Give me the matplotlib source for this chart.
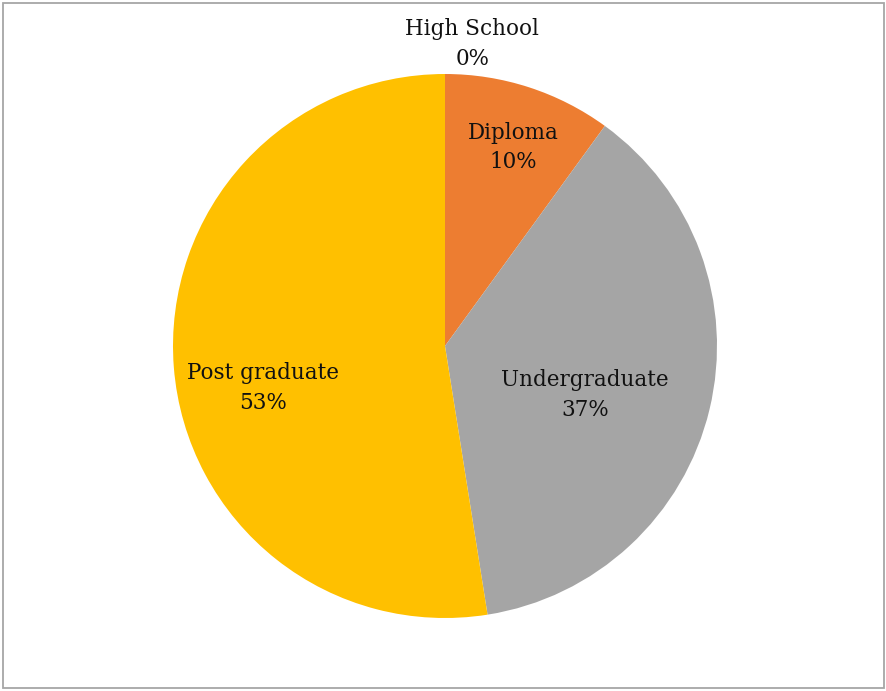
import matplotlib
matplotlib.use("Agg")
import matplotlib.pyplot as plt
from matplotlib.patches import Rectangle

# data
categories = ["High School", "Diploma", "Undergraduate", "Post graduate"]
shares = [0.0, 10.0, 37.5, 52.5]
pct_labels = ["0%", "10%", "37%", "53%"]
colors = ["#4472C4", "#ED7D31", "#A5A5A5", "#FFC000"]
# label anchor positions (pie radius = 1)
label_pos = [(0.10, 1.11), (0.25, 0.73), (0.515, -0.18), (-0.67, -0.155)]

plt.rcParams["font.family"] = ["DejaVu Serif"]

fig = plt.figure(figsize=(8.87, 6.91), dpi=100)
fig.patches.append(Rectangle((3 / 887, 3 / 691), 881 / 887, 685 / 691,
                             transform=fig.transFigure, fill=False,
                             edgecolor="#A6A6A6", lw=1.3))

ax = fig.add_axes([173 / 887, 73 / 691, 544 / 887, 544 / 691])
ax.pie(shares, colors=colors, startangle=90, counterclock=False,
       radius=1, wedgeprops=dict(linewidth=0))
for cat, pct, (x, y) in zip(categories, pct_labels, label_pos):
    ax.text(x, y, f"{cat}\n{pct}", ha="center", va="center",
            fontsize=15.5, linespacing=1.45, color="#111111")
ax.set_xlim(-1, 1); ax.set_ylim(-1, 1)
ax.set_aspect("equal")
ax.axis("off")

fig.savefig("out.png", dpi=100, facecolor="white")
